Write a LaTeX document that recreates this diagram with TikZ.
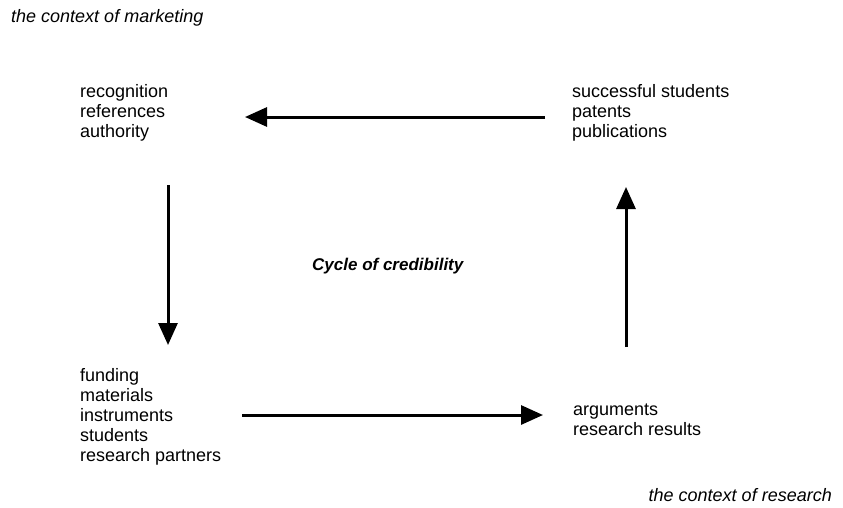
\documentclass[tikz,border=0pt]{standalone}
\usepackage{fontspec}
\setmainfont{Liberation Sans}
\usetikzlibrary{arrows.meta}
\begin{document}
\begin{tikzpicture}[x=1pt,y=-1pt,
  lbl/.style={anchor=base west, inner sep=0pt, align=left, font=\fontsize{18}{20}\selectfont},
  ctx/.style={anchor=base west, inner sep=0pt, font=\fontsize{18}{20}\selectfont\itshape},
  arr/.style={line width=3pt, -{Triangle[length=22pt,width=19pt]}}]
\useasboundingbox (0,0) rectangle (843,507);
\node[ctx] (mkt) at (11,22) {the context of marketing};
\node[ctx, anchor=base east] (res) at (832,501) {the context of research};
\node[lbl] (tl) at (80,137) {recognition\\references\\authority};
\node[lbl] (tr) at (572,137) {successful students\\patents\\publications};
\node[lbl] (bl) at (80,461) {funding\\materials\\instruments\\students\\research partners};
\node[lbl] (br) at (573,435) {arguments\\research results};
\node[anchor=base west, inner sep=0pt, font=\fontsize{17}{20}\selectfont\bfseries\itshape] (cyc) at (312,270) {Cycle of credibility};
\coordinate (t1) at (545,117);
\coordinate (t2) at (245,117);
\coordinate (l1) at (168,185);
\coordinate (l2) at (168,345);
\coordinate (b1) at (242,415);
\coordinate (b2) at (543,415);
\coordinate (r1) at (626,347);
\coordinate (r2) at (626,187);
\draw[arr] (t1) -- (t2);
\draw[arr] (l1) -- (l2);
\draw[arr] (b1) -- (b2);
\draw[arr] (r1) -- (r2);
\end{tikzpicture}
\end{document}
